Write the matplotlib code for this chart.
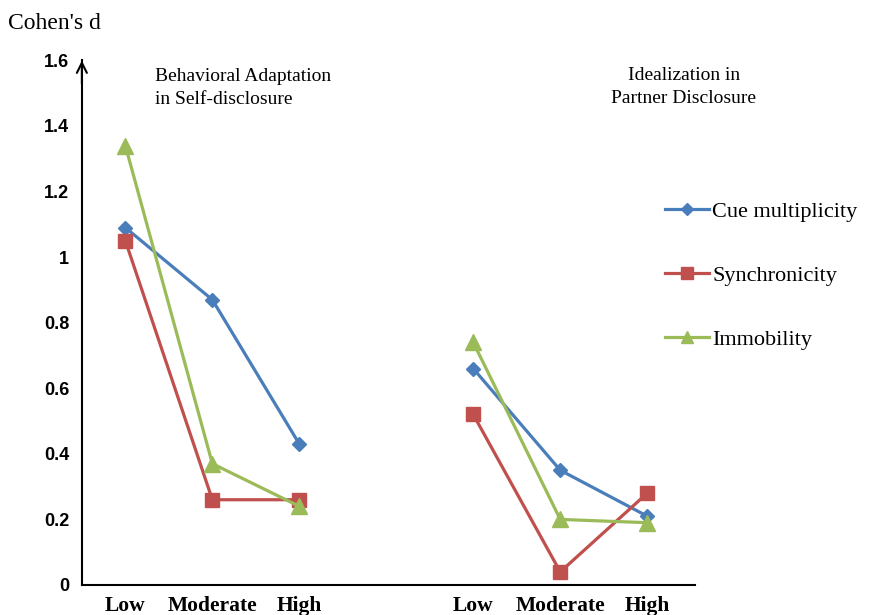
import numpy as np
import matplotlib
matplotlib.use("Agg")
import matplotlib.pyplot as plt

levels = ["Low", "Moderate", "High"]
series = ["Cue multiplicity", "Synchronicity", "Immobility"]
# Behavioral Adaptation in Self-disclosure
adapt_cue = [1.09, 0.87, 0.43]
adapt_sync = [1.05, 0.26, 0.26]
adapt_immob = [1.34, 0.37, 0.24]
# Idealization in Partner Disclosure
ideal_cue = [0.66, 0.35, 0.21]
ideal_sync = [0.52, 0.04, 0.28]
ideal_immob = [0.74, 0.20, 0.19]
yticks = [0, 0.2, 0.4, 0.6, 0.8, 1, 1.2, 1.4, 1.6]
ytick_labels = ["0", "0.2", "0.4", "0.6", "0.8", "1", "1.2", "1.4", "1.6"]

colors = ["#4A7EBB", "#C0504D", "#9BBB59"]
markers = ["D", "s", "^"]
msizes = [7.5, 10, 11]

fig = plt.figure(figsize=(8.71, 6.15), dpi=100)
ax = fig.add_axes([0.094, 0.0488, 0.704, 0.853])

x_left = np.arange(3)
x_right = np.arange(3) + 4
data = [(adapt_cue, ideal_cue), (adapt_sync, ideal_sync), (adapt_immob, ideal_immob)]
for (a, b), c, m, ms, name in zip(data, colors, markers, msizes, series):
    ax.plot(x_left, a, color=c, marker=m, markersize=ms, lw=2.3, label=name)
    ax.plot(x_right, b, color=c, marker=m, markersize=ms, lw=2.3)

ax.set_xlim(-0.5, 6.55)
ax.set_ylim(0, 1.6)
for s in ["top", "right"]:
    ax.spines[s].set_visible(False)
ax.spines["left"].set_linewidth(1.5)
ax.spines["bottom"].set_linewidth(1.5)
ax.annotate("", xy=(0, 1.005), xycoords="axes fraction", xytext=(0, 0.95),
            arrowprops=dict(arrowstyle="->", lw=1.5, color="black", mutation_scale=18))
ax.set_yticks(yticks)
ax.set_yticklabels(ytick_labels, fontsize=13, fontweight="bold", family="Liberation Sans")
ax.tick_params(axis="y", length=0, pad=9)
ax.set_xticks(list(x_left) + list(x_right))
ax.set_xticklabels(levels + levels, fontsize=15.5, fontweight="bold", family="Liberation Serif")
ax.tick_params(axis="x", length=0, pad=8)

fig.text(0.009, 0.962, "Cohen's d", fontsize=17, family="Liberation Serif", va="center")
fig.text(0.178, 0.857, "Behavioral Adaptation\nin Self-disclosure", fontsize=14,
         family="Liberation Serif", va="center", ha="left", linespacing=1.45)
fig.text(0.785, 0.859, "Idealization in\nPartner Disclosure", fontsize=14,
         family="Liberation Serif", va="center", ha="center", linespacing=1.45)

leg = ax.legend(loc="upper left", bbox_to_anchor=(0.763, 0.672), bbox_transform=fig.transFigure,
                frameon=False, prop={"family": "Liberation Serif", "size": 16},
                handlelength=2.0, handletextpad=0.15, labelspacing=1.95, markerscale=0.8,
                borderpad=0, borderaxespad=0)
fig.savefig("out.png", dpi=100)
